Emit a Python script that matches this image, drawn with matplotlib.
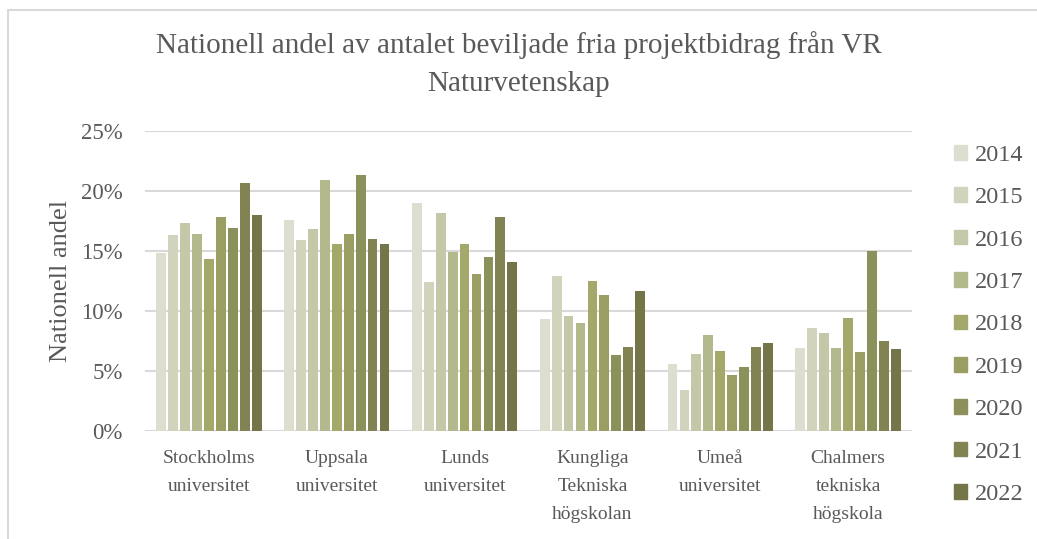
import numpy as np
import matplotlib
matplotlib.use("Agg")
import matplotlib.pyplot as plt
from matplotlib.patches import Patch, Rectangle
from matplotlib.ticker import PercentFormatter

plt.rcParams['font.family'] = ['Liberation Serif', 'DejaVu Serif']

# data (percent)
universities = ['Stockholms\nuniversitet', 'Uppsala\nuniversitet', 'Lunds\nuniversitet',
                'Kungliga\nTekniska\nhögskolan', 'Umeå\nuniversitet', 'Chalmers\ntekniska\nhögskola']
years = ['2014', '2015', '2016', '2017', '2018', '2019', '2020', '2021', '2022']
stockholm = [14.8, 16.3, 17.3, 16.4, 14.3, 17.8, 16.9, 20.7, 18.0]
uppsala = [17.6, 15.9, 16.8, 20.9, 15.6, 16.4, 21.3, 16.0, 15.6]
lund = [19.0, 12.4, 18.2, 14.9, 15.6, 13.1, 14.5, 17.8, 14.1]
kth = [9.3, 12.9, 9.6, 9.0, 12.5, 11.3, 6.3, 7.0, 11.7]
umea = [5.6, 3.4, 6.4, 8.0, 6.7, 4.7, 5.3, 7.0, 7.3]
chalmers = [6.9, 8.6, 8.2, 6.9, 9.4, 6.6, 15.0, 7.5, 6.8]
colors = ['#DDDDD0', '#D1D3BD', '#C5C8A8', '#B4B88D', '#A4A96B',
          '#9A9E63', '#8C905A', '#818452', '#747549']

values = np.array([stockholm, uppsala, lund, kth, umea, chalmers])

fig = plt.figure(figsize=(10.37, 5.39), dpi=100)
ax = fig.add_axes([145/1037, 1 - 431/539, 767/1037, 300/539])

# chart border (runs off the right/bottom edge)
fig.patches.append(Rectangle((8/1037, -0.05), 1.2, 1 - 10/539 + 0.05, transform=fig.transFigure,
                             fill=False, edgecolor='#d9d9d9', linewidth=1.5))

x = np.arange(len(universities))
step = 0.84 / len(years)
for i, yr in enumerate(years):
    ax.bar(x - 0.42 + step * (i + 0.5), values[:, i] / 100, width=step * 0.82,
           color=colors[i], label=yr, zorder=3)

ax.set_xlim(-0.5, len(universities) - 0.5)
ax.set_ylim(0, 0.25)
ax.set_yticks(np.arange(0, 0.26, 0.05))
ax.yaxis.set_major_formatter(PercentFormatter(1.0, decimals=0))
ax.grid(axis='y', color='#d9d9d9', linewidth=1.5, zorder=0)
for s in ax.spines.values():
    s.set_visible(False)
ax.tick_params(axis='y', length=0, labelsize=16.5, colors='#595959', pad=16)
ax.tick_params(axis='x', length=0, labelsize=14, colors='#595959', pad=14)
ax.set_xticks(x)
ax.set_xticklabels(universities, linespacing=1.82)
ax.set_ylabel('Nationell andel', fontsize=19, color='#595959')
ax.yaxis.set_label_coords(-73/767, 0.5)

fig.text(0.5, 1 - 45/539, 'Nationell andel av antalet beviljade fria projektbidrag från VR',
         ha='center', va='center', fontsize=21, color='#595959')
fig.text(0.5, 1 - 84/539, 'Naturvetenskap', ha='center', va='center', fontsize=21, color='#595959')

handles = [Patch(color=c) for c in colors]
fig.legend(handles, years, loc='upper left', bbox_to_anchor=(932/1037, 1 - 123/539),
           frameon=False, fontsize=17.5, labelcolor='#595959', handlelength=0.55,
           handleheight=0.55, handletextpad=0.3, labelspacing=0.88)

fig.savefig('out.png', dpi=100)
